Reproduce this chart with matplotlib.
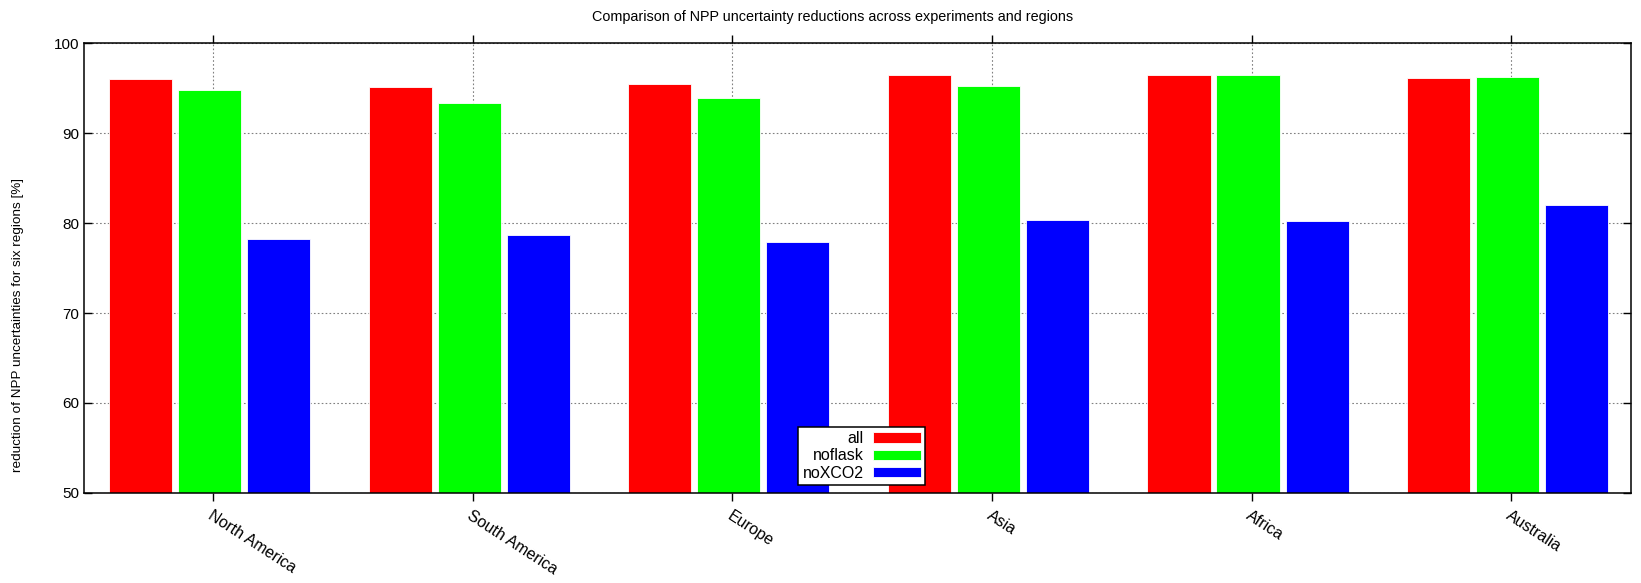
import matplotlib.pyplot as plt
import numpy as np

plt.rcParams['font.family'] = ['Liberation Sans', 'DejaVu Sans']

regions = ["North America", "South America", "Europe", "Asia", "Africa", "Australia"]
series = ["all", "noflask", "noXCO2"]
val_all = [96.0, 95.1, 95.4, 96.5, 96.45, 96.1]
val_noflask = [94.8, 93.3, 93.9, 95.25, 96.4, 96.25]
val_noxco2 = [78.2, 78.65, 77.85, 80.3, 80.2, 82.05]
colors = ["#ff0000", "#00ff00", "#0000ff"]

fig = plt.figure(figsize=(16.41, 5.83), dpi=100)
ax = fig.add_axes([0.0509, 0.1544, 0.9428, 0.7718])

x = np.arange(len(regions))
offsets = [-0.28, -0.014, 0.252]
width = 0.243
for vals, off, col, name in zip([val_all, val_noflask, val_noxco2], offsets, colors, series):
    ax.bar(x + off, vals, width, color=col, label=name, zorder=2,
           edgecolor='white', linewidth=0.6)

ax.set_xlim(-0.5, 5.46)
ax.set_ylim(50, 100)
ax.set_yticks(np.arange(50, 101, 10))
ax.set_xticks(x)
ax.set_xticklabels(regions, rotation=-33, ha='left', va='top',
                   rotation_mode='anchor', fontsize=11.5)
ax.tick_params(axis='x', direction='out', length=6, width=1, top=True, pad=5)
ax.tick_params(axis='y', direction='in', length=6, width=1, right=True,
               labelsize=11, pad=3)
ax.grid(True, linestyle=(0, (1.5, 2)), color='#808080', linewidth=0.8, zorder=0)
ax.set_axisbelow(True)
for s in ax.spines.values():
    s.set_linewidth(1.1)

leg = ax.legend(loc='lower center', bbox_to_anchor=(0.503, 0.018), borderaxespad=0,
                markerfirst=False, fancybox=False, framealpha=1, edgecolor='black',
                fontsize=11.5, handlelength=3.0, handleheight=0.6,
                labelspacing=0.15, borderpad=0.25, handletextpad=0.6)
leg.get_frame().set_linewidth(1.1)
for t in leg.get_texts():
    t.set_ha('right')
leg._legend_box.align = 'right'

fig.text(0.5076, 0.971, "Comparison of NPP uncertainty reductions across experiments and regions",
         ha='center', va='center', fontsize=10.4)
fig.text(0.011, 1 - 325 / 583, "reduction of NPP uncertainties for six regions [%]",
         rotation=90, ha='center', va='center', fontsize=9.7)

fig.savefig("out.png", dpi=100)
